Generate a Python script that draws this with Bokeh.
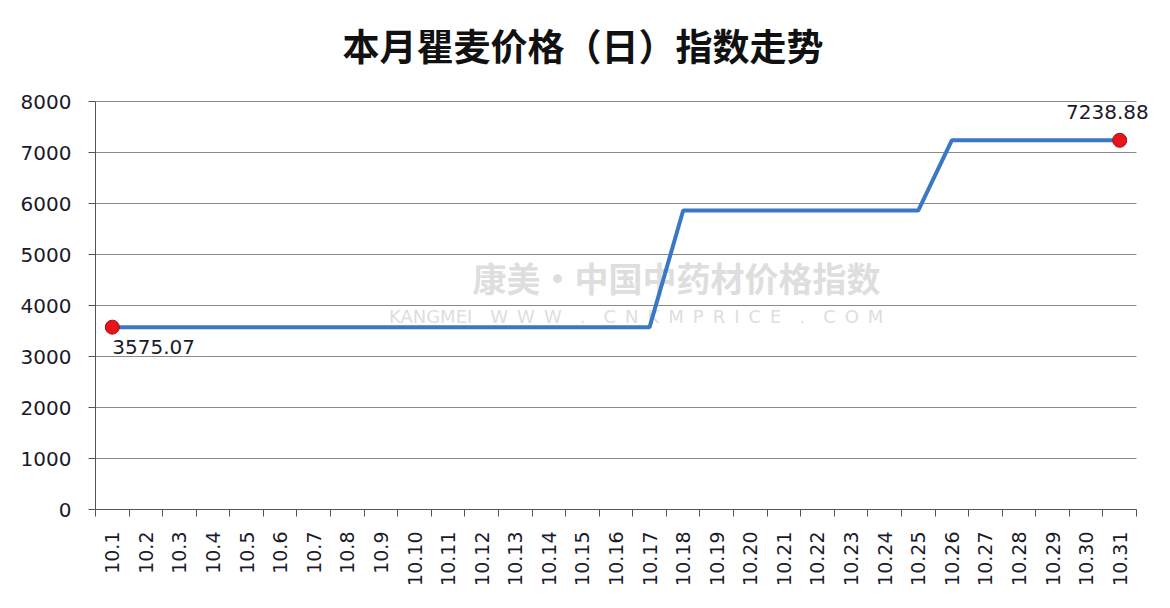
import math
from bokeh.plotting import figure
from bokeh.models import ColumnDataSource, FixedTicker, Range1d, Label
from bokeh.embed import file_html
from bokeh.resources import INLINE

days = [f"10.{d}" for d in range(1, 32)]
index_values = [3575.07] * 17 + [5862.0] * 8 + [7238.88] * 6
y_ticks = [0, 1000, 2000, 3000, 4000, 5000, 6000, 7000, 8000]
title_text = "本月瞿麦价格（日）指数走势"
first_label = "3575.07"
last_label = "7238.88"
wm_cn = "康美·中国中药材价格指数"
wm_en = ("KANGMEI\u2003W\u2002W\u2002W\u2003.\u2003C\u2002N\u2002K\u2002M\u2002P\u2002R\u2002I\u2002C\u2002E"
         "\u2003.\u2003C\u2002O\u2002M")

xs = list(range(1, len(days) + 1))
x_lo, x_hi = xs[0] - 0.5, xs[-1] + 0.5
y_lo, y_hi = y_ticks[0], y_ticks[-1]
src = ColumnDataSource(dict(x=xs, y=index_values, day=days))
ends = ColumnDataSource(dict(x=[xs[0], xs[-1]], y=[index_values[0], index_values[-1]]))
grid = ColumnDataSource(dict(x0=[x_lo] * len(y_ticks), x1=[x_hi] * len(y_ticks), y=y_ticks))

W, H = 1154, 592
left = 95
axis_px = 408                      # pixel height of 0..8000 in the reference
frame_h = 509                      # frame spans from the top of the canvas down to the x axis
unit = 1041 / len(days)            # px per category in the reference
frame_w = W - left
x_end = x_lo + frame_w / unit
y_end = y_lo + (y_hi - y_lo) * frame_h / axis_px

p = figure(width=W, height=H, output_backend="svg", toolbar_location=None,
           x_range=Range1d(x_lo, x_end), y_range=Range1d(y_lo, y_end),
           min_border_left=left, min_border_right=0, min_border_top=0,
           min_border_bottom=H - frame_h)
p.title = None
p.background_fill_color = "white"
p.border_fill_color = "white"
p.outline_line_color = None

# title
p.add_layout(Label(x=x_lo, y=y_hi, x_offset=247, y_offset=57, text=title_text,
                   text_align="left", text_baseline="middle", text_font="Noto Sans CJK SC",
                   text_font_size="37px", text_font_style="bold", text_color="#111111"))

# watermark (underlay)
p.add_layout(Label(x=17.8, y=4550, text=wm_cn, text_align="center", level="underlay",
                   text_baseline="middle", text_font="Noto Sans CJK SC",
                   text_font_size="34px", text_font_style="bold", text_color="#dedede"))
p.add_layout(Label(x=16.6, y=3785, text=wm_en, level="underlay",
                   text_align="center", text_baseline="middle", text_font="DejaVu Sans",
                   text_font_size="18px", text_color="#dedede"))

# horizontal grid lines, limited to the category span
p.segment(x0="x0", x1="x1", y0="y", y1="y", source=grid, line_color="#8a8a8a", line_width=1)

p.line("x", "y", source=src, line_color="#3a78c4", line_width=4)
p.scatter("x", "y", source=ends, size=14, fill_color="#e8141c", line_color="#a01018", line_width=1)

p.add_layout(Label(x=xs[0], y=index_values[0], text=first_label, x_offset=0, y_offset=-13,
                   text_baseline="top", text_align="left", text_font="DejaVu Sans",
                   text_font_size="20px", text_color="#1a1a2a"))
p.add_layout(Label(x=xs[-1], y=index_values[-1], text=last_label, x_offset=29, y_offset=21,
                   text_baseline="bottom", text_align="right", text_font="DejaVu Sans",
                   text_font_size="20px", text_color="#1a1a2a"))

# axes
p.xaxis.ticker = FixedTicker(ticks=xs, minor_ticks=[x - 0.5 for x in xs] + [x_hi])
p.xaxis.bounds = (x_lo, x_hi)
p.xaxis.major_label_overrides = {x: d for x, d in zip(xs, days)}
p.xaxis.major_label_orientation = math.pi / 2
p.xaxis.major_tick_out = 0
p.xaxis.major_tick_in = 0
p.xaxis.minor_tick_out = 7
p.xaxis.minor_tick_in = 0
p.xaxis.minor_tick_line_color = "#555555"
p.xaxis.axis_line_color = "#555555"
p.xaxis.major_label_text_font = "DejaVu Sans"
p.xaxis.major_label_text_font_size = "19px"
p.xaxis.major_label_text_color = "#1a1a2a"
p.xaxis.major_label_standoff = 15

p.yaxis.ticker = FixedTicker(ticks=y_ticks)
p.yaxis.bounds = (y_lo, y_hi)
p.yaxis.minor_tick_line_color = None
p.yaxis.major_tick_out = 7
p.yaxis.major_tick_in = 0
p.yaxis.major_tick_line_color = "#555555"
p.yaxis.axis_line_color = "#555555"
p.yaxis.major_label_text_font = "DejaVu Sans"
p.yaxis.major_label_text_font_size = "20px"
p.yaxis.major_label_text_color = "#1a1a2a"
p.yaxis.major_label_standoff = 17

p.xgrid.grid_line_color = None
p.ygrid.grid_line_color = None

open("out.html", "w").write(file_html(p, INLINE))
